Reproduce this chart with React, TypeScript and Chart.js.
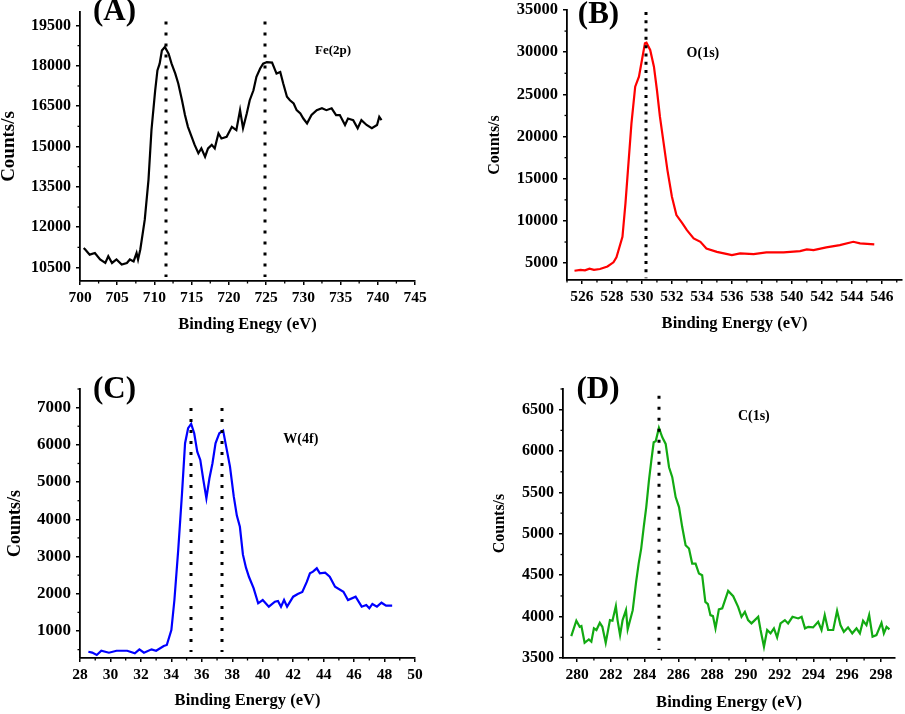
import React, { useEffect, useRef } from "react";
import { Chart, registerables } from "chart.js";
Chart.register(...registerables);

const FONT = "'Liberation Serif', 'Times New Roman', Times, serif";

// ---------- (A) Fe(2p) ----------
const feEnergy = [700.5, 700.7, 701.3, 702.0, 702.7, 703.4, 703.8, 704.3, 704.9, 705.6, 706.3, 706.7, 707.2, 707.6, 707.8, 708.1, 708.5, 708.7, 709.2, 709.6, 710.1, 710.4, 710.7, 711.0, 711.4, 711.9, 712.3, 712.8, 713.2, 713.7, 714.1, 714.5, 715.0, 715.4, 715.9, 716.3, 716.8, 717.2, 717.7, 718.1, 718.6, 719.0, 719.7, 720.4, 721.0, 721.5, 721.9, 722.4, 722.8, 723.3, 723.7, 724.2, 724.6, 725.1, 725.8, 726.4, 726.9, 727.3, 727.8, 728.2, 728.7, 729.1, 729.6, 730.0, 730.5, 731.1, 731.8, 732.5, 733.1, 733.8, 734.4, 734.9, 735.6, 736.0, 736.7, 737.3, 737.8, 738.5, 739.2, 739.9, 740.2, 740.5];
const feCounts = [11230, 11170, 10980, 11040, 10800, 10670, 10920, 10670, 10800, 10610, 10670, 10800, 10730, 11040, 10800, 11170, 11910, 12280, 13760, 15610, 17090, 17830, 18080, 18570, 18700, 18450, 18080, 17710, 17340, 16720, 16170, 15730, 15360, 15060, 14750, 14930, 14620, 14930, 15060, 14930, 15490, 15300, 15360, 15730, 15610, 16350, 15680, 16230, 16720, 17090, 17590, 17900, 18080, 18140, 18120, 17710, 17770, 17340, 16850, 16720, 16600, 16350, 16230, 16040, 15860, 16170, 16350, 16420, 16350, 16420, 16170, 16170, 15800, 16040, 15980, 15680, 15980, 15800, 15680, 15800, 16100, 15980];
const feXTicks = [700, 705, 710, 715, 720, 725, 730, 735, 740, 745];
const feYTicks = [10500, 12000, 13500, 15000, 16500, 18000, 19500];
const fePeaks = [711.5, 724.8];

// ---------- (B) O(1s) ----------
const oEnergy = [525.5, 525.9, 526.2, 526.5, 526.8, 527.2, 527.7, 528.1, 528.3, 528.7, 528.9, 529.1, 529.3, 529.55, 529.8, 530.0, 530.2, 530.3, 530.55, 530.8, 531.0, 531.2, 531.45, 531.7, 532.0, 532.3, 532.7, 533.0, 533.45, 533.9, 534.3, 535.0, 535.7, 536.0, 536.55, 537.45, 538.3, 539.45, 540.55, 541.0, 541.45, 542.3, 543.2, 544.1, 544.55, 545.5];
const oCounts = [4100, 4200, 4150, 4350, 4200, 4300, 4600, 5100, 5700, 8120, 12080, 16820, 21570, 25910, 27100, 29080, 31060, 31130, 30260, 28280, 25520, 22350, 19200, 16030, 12860, 10690, 9710, 8910, 7930, 7530, 6740, 6340, 6070, 5950, 6150, 6070, 6270, 6270, 6420, 6620, 6540, 6860, 7130, 7530, 7340, 7220];
const oXTicks = [526, 528, 530, 532, 534, 536, 538, 540, 542, 544, 546];
const oYTicks = [5000, 10000, 15000, 20000, 25000, 30000, 35000];
const oPeaks = [530.3];

// ---------- (C) W(4f) ----------
const wEnergy = [28.55, 28.8, 29.1, 29.4, 29.9, 30.4, 31.1, 31.6, 31.9, 32.2, 32.7, 33.0, 33.5, 33.7, 34.0, 34.2, 34.45, 34.7, 34.9, 35.1, 35.3, 35.5, 35.7, 35.9, 36.1, 36.3, 36.5, 36.7, 36.9, 37.15, 37.4, 37.6, 37.85, 38.1, 38.3, 38.5, 38.7, 38.9, 39.1, 39.4, 39.7, 40.0, 40.4, 40.8, 41.0, 41.2, 41.4, 41.6, 42.0, 42.3, 42.6, 42.9, 43.1, 43.3, 43.55, 43.75, 44.1, 44.4, 44.75, 45.3, 45.6, 46.1, 46.5, 46.8, 47.0, 47.2, 47.5, 47.8, 48.1, 48.5];
const wCounts = [444, 420, 355, 470, 417, 470, 470, 400, 508, 417, 508, 470, 597, 624, 1027, 1833, 3176, 4700, 6043, 6447, 6562, 6312, 5818, 5595, 5057, 4566, 5103, 5506, 6043, 6312, 6382, 5952, 5415, 4609, 4100, 3800, 3050, 2700, 2450, 2150, 1744, 1833, 1653, 1788, 1806, 1653, 1833, 1653, 1922, 1994, 2048, 2325, 2550, 2594, 2684, 2550, 2567, 2460, 2190, 2056, 1833, 1922, 1653, 1699, 1610, 1726, 1653, 1760, 1680, 1680];
const wXTicks = [28, 30, 32, 34, 36, 38, 40, 42, 44, 46, 48, 50];
const wYTicks = [1000, 2000, 3000, 4000, 5000, 6000, 7000];
const wPeaks = [35.27, 37.3];

// ---------- (D) C(1s) ----------
const cEnergy = [279.66, 279.96, 280.16, 280.26, 280.45, 280.7, 280.85, 281.0, 281.15, 281.35, 281.5, 281.7, 281.95, 282.1, 282.3, 282.4, 282.55, 282.7, 282.9, 283.0, 283.3, 283.5, 283.65, 283.8, 283.95, 284.1, 284.26, 284.4, 284.54, 284.66, 284.85, 285.05, 285.25, 285.45, 285.64, 285.84, 286.04, 286.23, 286.43, 286.63, 286.82, 287.02, 287.22, 287.41, 287.6, 287.75, 287.9, 288.05, 288.2, 288.4, 288.6, 288.95, 289.25, 289.54, 289.74, 289.94, 290.13, 290.33, 290.53, 290.73, 290.87, 291.07, 291.26, 291.46, 291.66, 291.85, 292.05, 292.31, 292.5, 292.76, 293.1, 293.3, 293.5, 293.7, 293.98, 294.28, 294.48, 294.67, 294.87, 295.17, 295.4, 295.6, 295.8, 296.05, 296.3, 296.55, 296.75, 296.94, 297.14, 297.3, 297.5, 297.73, 298.03, 298.17, 298.33, 298.5];
const cCounts = [3765, 3950, 3877, 3886, 3684, 3725, 3697, 3858, 3838, 3925, 3877, 3684, 3958, 3950, 4127, 3958, 3777, 3958, 4078, 3846, 4078, 4420, 4641, 4822, 5082, 5323, 5645, 5886, 6106, 6118, 6280, 6167, 6087, 5805, 5685, 5444, 5323, 5082, 4862, 4822, 4641, 4641, 4521, 4500, 4178, 4151, 4018, 4006, 3858, 4087, 4099, 4311, 4247, 4118, 3998, 4058, 3958, 3918, 3958, 3998, 3838, 3636, 3838, 3798, 3858, 3749, 3918, 3958, 3918, 3998, 3978, 3998, 3858, 3877, 3870, 3938, 3838, 4018, 3838, 3838, 4070, 3898, 3817, 3870, 3798, 3858, 3798, 3950, 3898, 4018, 3757, 3777, 3925, 3798, 3877, 3846];
const cXTicks = [280, 282, 284, 286, 288, 290, 292, 294, 296, 298];
const cYTicks = [3500, 4000, 4500, 5000, 5500, 6000, 6500];
const cPeaks = [284.85];

type Box = { x: number; y: number; w: number; h: number };
type Area = { l: number; t: number; r: number; b: number };
type PanelSpec = {
  label: string; labelX: number; labelBaseline: number;
  energy: number[]; counts: number[]; color: string;
  xMin: number; xMax: number; yMin: number; yMax: number;
  xTicks: number[]; yTicks: number[];
  canvas: Box; area: Area;
  yTitleX: number; yTitleSize: number; xTitle: string; xTitleY: number;
  xTickSize: number; yTickSize: number;
  note: string; noteX: number; noteY: number; noteSize: number;
  peaks: number[]; peakY: [number, number]; dash: number[];
};

const panels: PanelSpec[] = [
  {
    label: "(A)", labelX: 114.5, labelBaseline: 20,
    energy: feEnergy, counts: feCounts, color: "#000000",
    xMin: 700, xMax: 745, yMin: 10000, yMax: 20000, xTicks: feXTicks, yTicks: feYTicks,
    canvas: { x: 0, y: 0, w: 450, h: 345 }, area: { l: 80, t: 12, r: 415, b: 281 },
    yTitleX: 9, yTitleSize: 19, xTitle: "Binding Enegy (eV)", xTitleY: 325,
    xTickSize: 15.5, yTickSize: 16,
    note: "Fe(2p)", noteX: 734.0, noteY: 18575, noteSize: 13,
    peaks: fePeaks, peakY: [10150, 19650], dash: [3, 8],
  },
  {
    label: "(B)", labelX: 598.5, labelBaseline: 23,
    energy: oEnergy, counts: oCounts, color: "#ff0000",
    xMin: 525, xMax: 547.35, yMin: 3000, yMax: 35000, xTicks: oXTicks, yTicks: oYTicks,
    canvas: { x: 450, y: 0, w: 455, h: 345 }, area: { l: 567, t: 10, r: 902, b: 280 },
    yTitleX: 495, yTitleSize: 16, xTitle: "Binding Energy (eV)", xTitleY: 324,
    xTickSize: 15.5, yTickSize: 16.5,
    note: "O(1s)", noteX: 534.07, noteY: 29900, noteSize: 14,
    peaks: oPeaks, peakY: [3220, 34770], dash: [3, 5.3],
  },
  {
    label: "(C)", labelX: 114.5, labelBaseline: 398,
    energy: wEnergy, counts: wCounts, color: "#0000ff",
    xMin: 28, xMax: 50, yMin: 275, yMax: 7500, xTicks: wXTicks, yTicks: wYTicks,
    canvas: { x: 0, y: 370, w: 450, h: 344 }, area: { l: 80, t: 389, r: 415, b: 658 },
    yTitleX: 15, yTitleSize: 18, xTitle: "Binding Energy (eV)", xTitleY: 701,
    xTickSize: 15.5, yTickSize: 17,
    note: "W(4f)", noteX: 42.5, noteY: 6159, noteSize: 14,
    peaks: wPeaks, peakY: [436, 6992], dash: [3, 8],
  },
  {
    label: "(D)", labelX: 598, labelBaseline: 398,
    energy: cEnergy, counts: cCounts, color: "#12aa12",
    xMin: 279.17, xMax: 298.83, yMin: 3500, yMax: 6750, xTicks: cXTicks, yTicks: cYTicks,
    canvas: { x: 450, y: 370, w: 455, h: 344 }, area: { l: 563, t: 389, r: 895, b: 658 },
    yTitleX: 500, yTitleSize: 16, xTitle: "Binding Energy (eV)", xTitleY: 703,
    xTickSize: 15.5, yTickSize: 16,
    note: "C(1s)", noteX: 290.47, noteY: 6416, noteSize: 14,
    peaks: cPeaks, peakY: [3596, 6669], dash: [3, 8],
  },
];

function minorValues(ticks: number[], min: number, max: number): number[] {
  const out: number[] = [];
  if (ticks.length < 2) return out;
  const step = ticks[1] - ticks[0];
  for (let v = ticks[0] - step / 2; v <= max + 1e-9; v += step) {
    if (v >= min - 1e-9) out.push(v);
  }
  return out;
}

function makeChart(canvas: HTMLCanvasElement, p: PanelSpec) {
  const padLeft = Math.max(0, p.yTitleX - p.canvas.x - p.yTitleSize / 2);
  const yWidth = p.area.l - p.canvas.x - padLeft;
  const xHeight = p.canvas.h - (p.area.b - p.canvas.y);
  const xTitleSize = 16.5;
  const xTitlePadBottom = p.canvas.h - (p.xTitleY - p.canvas.y) - xTitleSize / 2;
  const n = Math.min(p.energy.length, p.counts.length);
  const pts = [] as { x: number; y: number }[];
  for (let i = 0; i < n; i++) pts.push({ x: p.energy[i], y: p.counts[i] });

  const decor = {
    id: "decor" + p.label,
    afterDatasetsDraw(chart: any) {
      const ctx = chart.ctx as CanvasRenderingContext2D;
      const xs = chart.scales.x;
      const ys = chart.scales.y;
      const ca = chart.chartArea;
      ctx.save();
      // dotted peak lines
      ctx.strokeStyle = "#000";
      ctx.lineWidth = 3;
      ctx.setLineDash(p.dash);
      ctx.lineCap = "butt";
      for (const e of p.peaks) {
        const px = Math.round(xs.getPixelForValue(e));
        ctx.beginPath();
        ctx.moveTo(px, ys.getPixelForValue(p.peakY[1]));
        ctx.lineTo(px, ys.getPixelForValue(p.peakY[0]));
        ctx.stroke();
      }
      ctx.setLineDash([]);
      // minor ticks
      ctx.lineWidth = 1.3;
      for (const v of minorValues(p.xTicks, p.xMin, p.xMax)) {
        const px = xs.getPixelForValue(v);
        ctx.beginPath();
        ctx.moveTo(px, ca.bottom);
        ctx.lineTo(px, ca.bottom + 2.5);
        ctx.stroke();
      }
      for (const v of minorValues(p.yTicks, p.yMin, p.yMax)) {
        const py = ys.getPixelForValue(v);
        ctx.beginPath();
        ctx.moveTo(ca.left, py);
        ctx.lineTo(ca.left - 2.5, py);
        ctx.stroke();
      }
      // annotation text
      ctx.fillStyle = "#000";
      ctx.font = `bold ${p.noteSize}px ${FONT}`;
      ctx.textAlign = "center";
      ctx.textBaseline = "middle";
      ctx.fillText(p.note, xs.getPixelForValue(p.noteX), ys.getPixelForValue(p.noteY));
      // panel label
      ctx.font = `bold 31px ${FONT}`;
      ctx.textBaseline = "alphabetic";
      ctx.fillText(p.label, p.labelX - p.canvas.x, p.labelBaseline - p.canvas.y);
      ctx.restore();
    },
  };

  return new Chart(canvas, {
    type: "line",
    data: {
      datasets: [
        {
          data: pts,
          borderColor: p.color,
          borderWidth: 2.2,
          pointRadius: 0,
          fill: false,
          tension: 0,
        },
      ],
    },
    options: {
      animation: false,
      responsive: false,
      maintainAspectRatio: false,
      events: [],
      layout: {
        padding: {
          left: padLeft,
          top: p.area.t - p.canvas.y,
          right: p.canvas.x + p.canvas.w - p.area.r,
          bottom: 0,
        },
      },
      plugins: { legend: { display: false }, tooltip: { enabled: false }, title: { display: false } },
      scales: {
        x: {
          type: "linear",
          min: p.xMin,
          max: p.xMax,
          afterBuildTicks: (s: any) => {
            s.ticks = p.xTicks.map((v) => ({ value: v }));
          },
          afterFit: (s: any) => {
            s.height = xHeight;
            s.paddingLeft = 0;
            s.paddingRight = 0;
          },
          ticks: {
            autoSkip: false,
            maxRotation: 0,
            minRotation: 0,
            padding: 4,
            color: "#000",
            font: { family: FONT, size: p.xTickSize, weight: "bold" },
            callback: (v: any) => String(v),
          },
          grid: { drawOnChartArea: false, drawTicks: true, tickLength: 4, color: "#000", lineWidth: 1.5 },
          border: { display: true, color: "#000", width: 1.8 },
          title: {
            display: true,
            text: p.xTitle,
            color: "#000",
            font: { family: FONT, size: xTitleSize, weight: "bold", lineHeight: 1 },
            padding: { top: 0, bottom: xTitlePadBottom },
          },
        },
        y: {
          type: "linear",
          min: p.yMin,
          max: p.yMax,
          afterBuildTicks: (s: any) => {
            s.ticks = p.yTicks.map((v) => ({ value: v }));
          },
          afterFit: (s: any) => {
            s.width = yWidth;
            s.paddingTop = 0;
            s.paddingBottom = 0;
          },
          ticks: {
            padding: 5,
            color: "#000",
            font: { family: FONT, size: p.yTickSize, weight: "bold" },
            callback: (v: any) => String(v),
          },
          grid: { drawOnChartArea: false, drawTicks: true, tickLength: 4, color: "#000", lineWidth: 1.5 },
          border: { display: true, color: "#000", width: 1.8 },
          title: {
            display: true,
            text: "Counts/s",
            color: "#000",
            font: { family: FONT, size: p.yTitleSize, weight: "bold", lineHeight: 1 },
            padding: { top: 0, bottom: 0 },
          },
        },
      },
    } as any,
    plugins: [decor],
  });
}

function Panel({ p }: { p: PanelSpec }) {
  const ref = useRef<HTMLCanvasElement>(null);
  useEffect(() => {
    if (!ref.current) return;
    const chart = makeChart(ref.current, p);
    return () => chart.destroy();
  }, [p]);
  return (
    <canvas
      ref={ref}
      width={p.canvas.w}
      height={p.canvas.h}
      style={{ position: "absolute", left: p.canvas.x, top: p.canvas.y, width: p.canvas.w, height: p.canvas.h }}
    />
  );
}

export default function App() {
  return (
    <div style={{ position: "absolute", left: 0, top: 0, width: 905, height: 714, background: "#fff", overflow: "hidden" }}>
      {panels.map((p) => (
        <Panel key={p.label} p={p} />
      ))}
    </div>
  );
}
